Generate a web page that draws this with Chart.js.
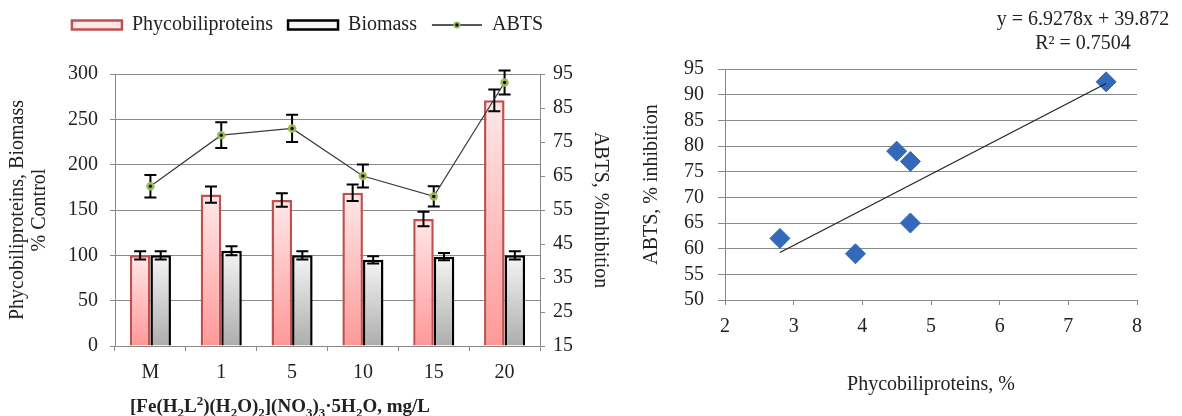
<!DOCTYPE html>
<html>
<head>
<meta charset="utf-8">
<title>Phycobiliproteins, Biomass and ABTS</title>
<script src="https://cdn.jsdelivr.net/npm/chart.js@4.4.0/dist/chart.umd.min.js"></script>
<style>
    body { margin: 0; background: #fff; width: 1182px; height: 416px; position: relative; overflow: hidden;
           font-family: 'Liberation Serif', 'Times New Roman', serif; color: #222; }
    #left-wrap { position: absolute; left: 0; top: 0; width: 615px; height: 416px; }
    #right-wrap { position: absolute; left: 628px; top: 0; width: 554px; height: 416px; }
    #x-title { position: absolute; left: 0; top: 394px; width: 560px; text-align: center;
               font-weight: bold; font-size: 19px; line-height: 24px; }
    #x-title sub, #x-title sup { font-size: 13px; line-height: 0; }
    #equation { position: absolute; left: 983px; top: 6px; width: 200px; text-align: center;
                font-size: 20px; line-height: 24px; white-space: nowrap; }
</style>
</head>
<body>
<div id="left-wrap"><canvas id="barChart"></canvas></div>
<div id="right-wrap"><canvas id="scatterChart"></canvas></div>
<div id="x-title">[Fe(H<sub>2</sub>L<sup>2</sup>)(H<sub>2</sub>O)<sub>2</sub>](NO<sub>3</sub>)<sub>3</sub>·5H<sub>2</sub>O, mg/L</div>
<div id="equation">y = 6.9278x + 39.872<br>R² = 0.7504</div>

<script>
// --- data ---
const categories = ['M', '1', '5', '10', '15', '20'];
const phycoValues = [100, 167, 161, 169, 140, 271];
const phycoErrors = [4.5, 9, 7.5, 9, 8, 12];
const biomassValues = [100, 105, 100, 95, 98.5, 100];
const biomassErrors = [4.5, 5, 4.5, 4, 4, 4.5];
const abtsValues = [62, 77, 79, 65, 59, 92.5];
const abtsErrors = [3.3, 3.8, 4, 3.4, 3, 3.5];

const phycoPercent = [2.8, 4.7, 4.5, 4.7, 3.9, 7.55];
const abtsInhibition = [62, 77, 79, 65, 59, 92.5];
const trendSlope = 6.9278;
const trendIntercept = 39.872;

const SERIF = "'Liberation Serif', 'Times New Roman', serif";
Chart.defaults.font.family = SERIF;
Chart.defaults.font.size = 20;
Chart.defaults.color = '#222';

const tickFont = { family: SERIF, size: 20 };
const GRID = '#8a8a8a';

// vertical gradient per bar, light at the top, darker at the base
function barGradient(top, bottom) {
    return (ctx) => {
        const chart = ctx.chart;
        const y = chart.scales && chart.scales.y;
        if (!y || ctx.type !== 'data' || !chart.chartArea) return top;
        const y0 = y.getPixelForValue(ctx.raw);
        const y1 = y.getPixelForValue(0);
        if (!isFinite(y0) || !isFinite(y1) || y1 - y0 < 1) return top;
        const g = chart.ctx.createLinearGradient(0, y0, 0, y1);
        g.addColorStop(0, top);
        g.addColorStop(1, bottom);
        return g;
    };
}

function drawErrors(chart, index) {
    const ds = chart.data.datasets[index];
    if (!ds.errors) return;
    const meta = chart.getDatasetMeta(index);
    const scale = chart.scales[meta.yAxisID];
    const c = chart.ctx;
    c.save();
    c.strokeStyle = '#000';
    c.lineWidth = 2;
    meta.data.forEach((el, i) => {
        const x = el.x;
        const hi = scale.getPixelForValue(ds.data[i] + ds.errors[i]);
        const lo = scale.getPixelForValue(ds.data[i] - ds.errors[i]);
        c.beginPath();
        c.moveTo(x, hi); c.lineTo(x, lo);
        c.moveTo(x - 6, hi); c.lineTo(x + 6, hi);
        c.moveTo(x - 6, lo); c.lineTo(x + 6, lo);
        c.stroke();
    });
    c.restore();
}

// bar error bars go over the bars, the ABTS ones go under its markers
const errorBars = {
    id: 'errorBars',
    beforeDatasetDraw(chart, args) {
        if (chart.data.datasets[args.index].type === 'line') drawErrors(chart, args.index);
    },
    afterDatasetDraw(chart, args) {
        if (chart.data.datasets[args.index].type !== 'line') drawErrors(chart, args.index);
    }
};

// extra room under the legend + the little marker on the ABTS legend line
const legendExtras = {
    id: 'legendExtras',
    beforeInit(chart) {
        const fit = chart.legend.fit;
        chart.legend.fit = function () {
            fit.bind(chart.legend)();
            this.height += 29;
        };
    },
    afterDraw(chart) {
        const box = chart.legend.legendHitBoxes[2];
        if (!box) return;
        const c = chart.ctx;
        const x = box.left + 25, y = box.top + box.height / 2;
        c.save();
        c.fillStyle = '#9bbb59';
        c.beginPath(); c.arc(x, y, 3.5, 0, Math.PI * 2); c.fill();
        c.fillStyle = '#111';
        c.beginPath(); c.arc(x, y, 1.8, 0, Math.PI * 2); c.fill();
        c.restore();
    }
};

const defaultLabels = Chart.defaults.plugins.legend.labels.generateLabels;

new Chart(document.getElementById('barChart'), {
    type: 'bar',
    data: {
        labels: categories,
        datasets: [
            {
                label: 'Phycobiliproteins',
                data: phycoValues,
                errors: phycoErrors,
                yAxisID: 'y',
                backgroundColor: barGradient('#ffe8e8', '#ff9898'),
                borderColor: '#c0504d',
                borderWidth: 2.5,
                pointStyle: 'rect',
                order: 1
            },
            {
                label: 'Biomass',
                data: biomassValues,
                errors: biomassErrors,
                yAxisID: 'y',
                backgroundColor: barGradient('#f5f5f5', '#adadad'),
                borderColor: '#000',
                borderWidth: 2.5,
                pointStyle: 'rect',
                order: 1
            },
            {
                type: 'line',
                label: 'ABTS',
                data: abtsValues,
                errors: abtsErrors,
                yAxisID: 'y1',
                borderColor: '#3a3a3a',
                borderWidth: 1.2,
                tension: 0,
                pointStyle: 'circle',
                pointRadius: 3,
                pointBackgroundColor: '#111',
                pointBorderColor: '#9bbb59',
                pointBorderWidth: 2.5,
                order: 0
            }
        ]
    },
    options: {
        responsive: true,
        maintainAspectRatio: false,
        animation: false,
        layout: { padding: { top: 0, right: 0, bottom: 0, left: 0 } },
        datasets: { bar: { categoryPercentage: 0.58, barPercentage: 1.0 } },
        plugins: {
            tooltip: { enabled: false },
            legend: {
                position: 'top',
                labels: {
                    font: tickFont,
                    color: '#222',
                    usePointStyle: true,
                    pointStyleWidth: 50,
                    boxHeight: 9,
                    padding: 15,
                    sort: (a, b) => a.datasetIndex - b.datasetIndex,
                    generateLabels(chart) {
                        const items = defaultLabels(chart);
                        items.forEach(it => {
                            if (it.datasetIndex === 2) {
                                it.pointStyle = 'line';
                                it.strokeStyle = '#222';
                                it.lineWidth = 1.5;
                            } else {
                                it.lineWidth = 2.5;
                            }
                        });
                        return items;
                    }
                }
            }
        },
        scales: {
            x: {
                grid: { drawOnChartArea: false, tickLength: 5, color: GRID },
                border: { color: GRID },
                ticks: { font: tickFont, color: '#222', padding: 10 },
                afterFit(s) { s.height = 70; }
            },
            y: {
                position: 'left',
                min: 0,
                max: 300,
                ticks: { stepSize: 50, font: tickFont, color: '#222', padding: 12 },
                grid: { color: GRID, tickLength: 5 },
                border: { color: GRID },
                title: {
                    display: true,
                    text: ['Phycobiliproteins, Biomass', '% Control'],
                    font: { family: SERIF, size: 20, lineHeight: 1.1 },
                    color: '#222',
                    padding: { top: 7, bottom: 0 }
                },
                afterFit(s) { s.width = 115; }
            },
            y1: {
                position: 'right',
                min: 15,
                max: 95,
                ticks: { stepSize: 10, font: tickFont, color: '#222', padding: 8 },
                grid: { drawOnChartArea: false, tickLength: 5, color: GRID },
                border: { color: GRID },
                title: {
                    display: true,
                    text: 'ABTS, %Inhibition',
                    font: { family: SERIF, size: 20, lineHeight: 1.1 },
                    color: '#222',
                    padding: { top: 4, bottom: 0 }
                },
                afterFit(s) { s.width = 75; }
            }
        }
    },
    plugins: [errorBars, legendExtras]
});

// --- scatter with linear trend ---
const scatterPoints = phycoPercent.map((x, i) => ({ x: x, y: abtsInhibition[i] }));
const trendX = [Math.min(...phycoPercent), Math.max(...phycoPercent)];
const trendPoints = trendX.map(x => ({ x: x, y: trendSlope * x + trendIntercept }));

new Chart(document.getElementById('scatterChart'), {
    type: 'scatter',
    data: {
        datasets: [
            {
                label: 'ABTS',
                data: scatterPoints,
                pointStyle: 'rectRot',
                pointRadius: 10,
                backgroundColor: '#3468b8',
                borderColor: '#3468b8',
                borderWidth: 1,
                order: 1
            },
            {
                type: 'line',
                label: 'Linear',
                data: trendPoints,
                borderColor: '#222',
                borderWidth: 1.2,
                pointRadius: 0,
                order: 0
            }
        ]
    },
    options: {
        responsive: true,
        maintainAspectRatio: false,
        animation: false,
        layout: { padding: { top: 69, right: 45, bottom: 0, left: 0 } },
        plugins: { legend: { display: false }, tooltip: { enabled: false } },
        scales: {
            x: {
                type: 'linear',
                min: 2,
                max: 8,
                ticks: { stepSize: 1, font: tickFont, color: '#222', padding: 10 },
                grid: { drawOnChartArea: false, tickLength: 5, color: GRID },
                border: { color: GRID },
                title: {
                    display: true,
                    text: 'Phycobiliproteins, %',
                    font: { family: SERIF, size: 20, lineHeight: 1.1 },
                    color: '#222',
                    padding: { top: 0, bottom: 20 }
                },
                afterFit(s) { s.height = 116; }
            },
            y: {
                min: 50,
                max: 95,
                ticks: { stepSize: 5, autoSkip: false, font: tickFont, color: '#222', padding: 14 },
                grid: { color: GRID, tickLength: 7 },
                border: { color: GRID },
                title: {
                    display: true,
                    text: 'ABTS, % inhibition',
                    font: { family: SERIF, size: 20, lineHeight: 1.1 },
                    color: '#222',
                    padding: { top: 13, bottom: 0 }
                },
                afterFit(s) { s.width = 97; }
            }
        }
    }
});
</script>
</body>
</html>
